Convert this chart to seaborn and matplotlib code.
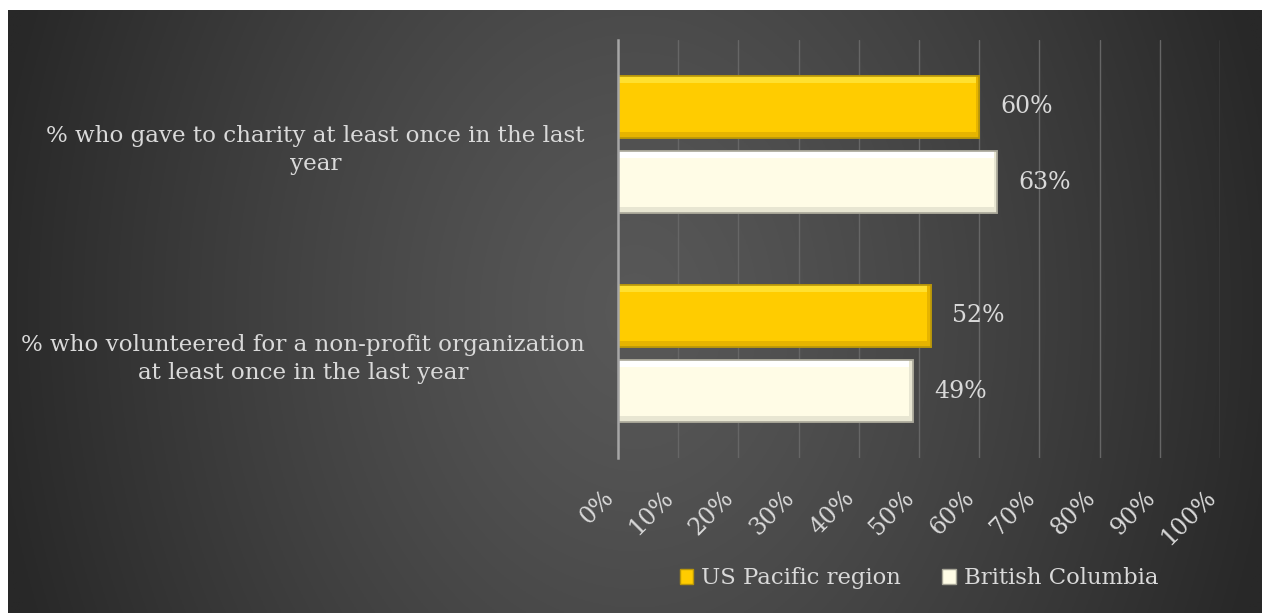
import numpy as np
import pandas as pd
import matplotlib
matplotlib.use("Agg")
import matplotlib.pyplot as plt
import seaborn as sns
from matplotlib.patches import Patch, Rectangle

# ---- data ----
categories = [
    "% who gave to charity at least once in the last\nyear",
    "% who volunteered for a non-profit organization\nat least once in the last year",
]
series = ["US Pacific region", "British Columbia"]
us_pacific = [60, 52]
british_columbia = [63, 49]
x_ticks = [0, 10, 20, 30, 40, 50, 60, 70, 80, 90, 100]
x_tick_labels = [f"{t}%" for t in x_ticks]

df = pd.DataFrame({
    "category": categories * 2,
    "region": [series[0]] * 2 + [series[1]] * 2,
    "value": us_pacific + british_columbia,
})

YELLOW = "#FFCC00"
CREAM = "#FFFCE6"
TXT = "#D9D9D9"

sns.set_style("white")
plt.rcParams["font.family"] = ["DejaVu Serif"]

W, H = 1262, 613
fig = plt.figure(figsize=(W / 100, H / 100), dpi=100, facecolor="white")

# background gradient (mostly horizontal, light in the middle)
bg = fig.add_axes([8 / W, 0, 1 - 8 / W, 1 - 10 / H], zorder=-10)
yy, xx = np.mgrid[0:300, 0:620]
fx, fy = xx / 619, 1 - yy / 299
d = np.sqrt(((fx - 0.50) / 0.52) ** 2 + ((fy - 0.5) / 1.4) ** 2)
d = np.clip(d, 0, 1)
c0, c1 = 0x58 / 255, 0x28 / 255
img = c0 + (c1 - c0) * d ** 1.25
bg.imshow(np.dstack([img, img, img]), aspect="auto", extent=[0, 1, 0, 1])
bg.set_axis_off()

ax = fig.add_axes([618 / W, 1 - 458 / H, (1220 - 618) / W, (458 - 40) / H])
ax.set_facecolor("none")

sns.barplot(data=df, y="category", x="value", hue="region", orient="h",
            palette=[YELLOW, CREAM], width=0.718, gap=0.167, ax=ax,
            legend=False, saturation=1)

edges = ["#B8960A", "#A8A698"]
tops = ["#FFE030", "#FFFFFF"]
bottoms = ["#E6B400", "#E8E6D2"]
for cont, ec, tc, bc in zip(ax.containers, edges, tops, bottoms):
    for p in cont.patches:
        p.set_edgecolor(ec)
        p.set_linewidth(1.2)
        x0, y0 = p.get_x(), p.get_y()
        w, h = p.get_width(), p.get_height()
        # bevel: light strip along the top, darker strip along the bottom
        ax.add_patch(Rectangle((x0, y0), w, h * 0.12, facecolor=tc,
                               edgecolor="none", zorder=p.get_zorder() + 0.1))
        ax.add_patch(Rectangle((x0, y0 + h * 0.9), w, h * 0.1, facecolor=bc,
                               edgecolor="none", zorder=p.get_zorder() + 0.1))
        ax.add_patch(Rectangle((x0 + w - 0.6, y0), 0.6, h, facecolor=bc,
                               edgecolor="none", zorder=p.get_zorder() + 0.1))
        ax.add_patch(Rectangle((x0, y0), w, h, facecolor="none",
                               edgecolor=ec, linewidth=1.2,
                               zorder=p.get_zorder() + 0.2))
    ax.bar_label(cont, labels=[f"{int(v)}%" for v in cont.datavalues],
                 padding=15, color=TXT, fontsize=17)

ax.set_xlim(0, 100)
ax.set_ylim(1.5, -0.5)
ax.set_xticks(x_ticks)
ax.set_xticklabels(x_tick_labels, rotation=45, ha="right", color=TXT, fontsize=17)
ax.set_yticks([0, 1])
ax.set_yticklabels(categories, color=TXT, fontsize=16.6)
for lab in ax.get_yticklabels():
    lab.set_multialignment("center")
    lab.set_linespacing(1.38)
ax.tick_params(axis="y", length=0, pad=24)
ax.tick_params(axis="x", length=0, pad=20)
ax.set_xlabel("")
ax.set_ylabel("")
ax.grid(axis="x", color="#666666", linewidth=1)
ax.set_axisbelow(True)
for s in ["top", "right", "bottom"]:
    ax.spines[s].set_visible(False)
ax.spines["left"].set_color("#A6A6A6")
ax.spines["left"].set_linewidth(1.8)

handles = [Patch(facecolor=YELLOW, edgecolor=edges[0]),
           Patch(facecolor=CREAM, edgecolor=edges[1])]
ax.legend(handles, series, loc="center", bbox_to_anchor=(0.5, -0.288),
          ncol=2, frameon=False, fontsize=16.4, labelcolor=TXT,
          handlelength=0.6, handleheight=0.6, handletextpad=0.35,
          columnspacing=1.8)

fig.savefig("out.png", dpi=100, facecolor="white")
